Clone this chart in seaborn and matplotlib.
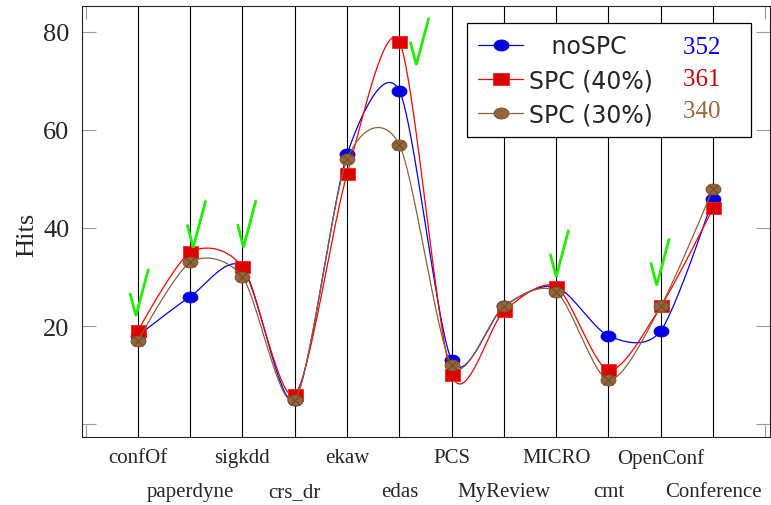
import numpy as np
import pandas as pd
import matplotlib
matplotlib.use("Agg")
import matplotlib.pyplot as plt
import seaborn as sns
from matplotlib.path import Path
from matplotlib.markers import MarkerStyle
from matplotlib.lines import Line2D

# ---------------- data ----------------
categories = ["confOf", "paperdyne", "sigkdd", "crs_dr", "ekaw", "edas",
              "PCS", "MyReview", "MICRO", "cmt", "OpenConf", "Conference"]
no_spc = [18, 26, 32, 5, 55, 68, 13, 24, 28, 18, 19, 46]
spc40 = [19, 35, 32, 6, 51, 78, 10, 23, 28, 11, 24, 44]
spc30 = [17, 33, 30, 5, 54, 57, 12, 24, 27, 9, 24, 48]
series_names = ["noSPC", "SPC (40%)", "SPC (30%)"]
totals = [352, 361, 340]
check_categories = ["confOf", "paperdyne", "sigkdd", "edas", "MICRO", "OpenConf"]
y_ticks = [0, 20, 40, 60, 80]
y_tick_labels = ["", "20", "40", "60", "80"]

# ---------------- style ----------------
line_colors = ["#0000FF", "#FF0000", "#8C6239"]
fill_colors = ["#0000DD", "#DD0000", "#93653A"]
edge_colors = ["#0000FF", "#FF2020", "#7A5028"]
num_colors = ["#0000FF", "#CC0000", "#9A6A3A"]
# check-mark bottom offsets in pixels (dx, dy up) relative to SPC(40%) point
check_offsets = {"confOf": (-2, 15), "paperdyne": (3, 5), "sigkdd": (1, 20),
                 "edas": (17, -23), "MICRO": (0, 10), "OpenConf": (-4, 21)}

sns.set_theme(style="white")
plt.rcParams["font.family"] = ["Liberation Serif", "DejaVu Sans"]

W, H = 771, 506
fig = plt.figure(figsize=(W / 100, H / 100), dpi=100)
ax = fig.add_axes([82 / W, 68 / H, 688 / W, 431 / H])

# marker shapes
th = np.linspace(0, 2 * np.pi, 64)
ellipse = Path(np.column_stack([1.36 * np.cos(th), np.sin(th)]), closed=True)
rect = Path([(-1.36, -1), (1.36, -1), (1.36, 1), (-1.36, 1), (-1.36, -1)], closed=True)
shapes = [MarkerStyle(ellipse), MarkerStyle(rect), MarkerStyle(ellipse)]


def smooth(xs, ys, k=0.1375, n=40):
    P = np.column_stack([xs, ys]).astype(float)
    m = len(P)
    out = []
    t = np.linspace(0, 1, n)[:, None]
    for i in range(m - 1):
        p0, p3 = P[i], P[i + 1]
        d0 = P[i + 1] - P[i - 1] if i > 0 else np.zeros(2)
        d1 = P[i + 2] - P[i] if i + 2 < m else np.zeros(2)
        p1 = p0 + k * d0
        p2 = p3 - k * d1
        seg = (1 - t) ** 3 * p0 + 3 * (1 - t) ** 2 * t * p1 + 3 * (1 - t) * t ** 2 * p2 + t ** 3 * p3
        out.append(seg if i == 0 else seg[1:])
    return np.vstack(out)


xs = np.arange(len(categories))
all_series = [no_spc, spc40, spc30]
for si, vals in enumerate(all_series):
    z = 3 + si
    curve = smooth(xs, vals)
    cdf = pd.DataFrame({"x": curve[:, 0], "y": curve[:, 1]})
    sns.lineplot(data=cdf, x="x", y="y", sort=False, estimator=None,
                 color=line_colors[si], lw=0.9, ax=ax, zorder=z)
    pdf = pd.DataFrame({"x": xs, "y": vals})
    sns.scatterplot(data=pdf, x="x", y="y", marker=shapes[si], s=10.8 ** 2,
                    color=fill_colors[si], edgecolor=edge_colors[si], linewidth=0.6,
                    ax=ax, zorder=z + 0.3)
    if si == 2:
        sns.scatterplot(data=pdf, x="x", y="y", marker="x", s=7 ** 2,
                        color="#6A4220", linewidth=0.6, ax=ax, zorder=z + 0.4)

ax.set_xlim(-1.07, 12.09)
ax.set_ylim(-2.65, 85.3)

# axes styling
ax.set_xticks(xs)
ax.set_xticklabels(categories, fontsize=15)
ax.set_xticks([-1, 12], minor=True)
ax.tick_params(axis="x", which="major", length=0, pad=8)
ax.tick_params(axis="x", which="minor", direction="in", length=9, color="#999999",
               width=0.8, top=True, bottom=True)
for lab in ax.get_xticklabels()[1::2]:
    lab.set_y(-0.078)
ax.set_yticks(y_ticks)
ax.set_yticklabels(y_tick_labels, fontsize=19)
ax.tick_params(axis="y", direction="in", length=10, color="#999999", width=0.8,
               left=True, right=True, pad=9)
ax.grid(axis="x", which="major", color="black", lw=0.8)
ax.grid(axis="y", visible=False)
ax.set_axisbelow(True)
for sp in ax.spines.values():
    sp.set_color("#222222")
    sp.set_linewidth(0.8)
ax.set_xlabel("")
ax.set_ylabel("Hits", fontsize=19)
ax.yaxis.set_label_coords(-0.064, 0.471)

# check marks
fig.canvas.draw()
inv = ax.transData.inverted()
for cat in check_categories:
    i = categories.index(cat)
    px, py = ax.transData.transform((i, spc40[i]))
    dx, dy = check_offsets[cat]
    bx, by = px + dx, py + dy
    pts = np.array([[bx - 6, by + 23], [bx, by], [bx + 12.5, by + 47]])
    dpts = inv.transform(pts)
    ax.plot(dpts[:, 0], dpts[:, 1], color="#22EE00", lw=2.0, zorder=10,
            solid_capstyle="butt", solid_joinstyle="miter")

# legend
handles = [Line2D([], [], color=line_colors[i], lw=0.9, marker=shapes[i], markersize=10.8,
                  markerfacecolor=fill_colors[i], markeredgecolor=edge_colors[i],
                  markeredgewidth=0.6) for i in range(3)]
blank = [Line2D([], [], lw=0, marker=None, alpha=0) for _ in range(3)]
labels = ["   " + series_names[0], series_names[1], series_names[2]] + [str(t) + "   " for t in totals]
leg = ax.legend(handles + blank, labels, ncol=2, loc="upper left",
                bbox_to_anchor=(0.56, 0.96), borderaxespad=0, frameon=True,
                fancybox=False, edgecolor="black", framealpha=1,
                prop={"family": "DejaVu Sans", "size": 17},
                handlelength=1.9, handletextpad=0.25, columnspacing=-0.85,
                borderpad=0.46, labelspacing=0.43)
leg.get_frame().set_linewidth(0.9)
leg.set_zorder(20)
for j, txt in enumerate(leg.get_texts()[3:]):
    txt.set_fontfamily("Liberation Serif")
    txt.set_fontsize(18)
    txt.set_color(num_colors[j])

fig.savefig("out.png", dpi=100)
